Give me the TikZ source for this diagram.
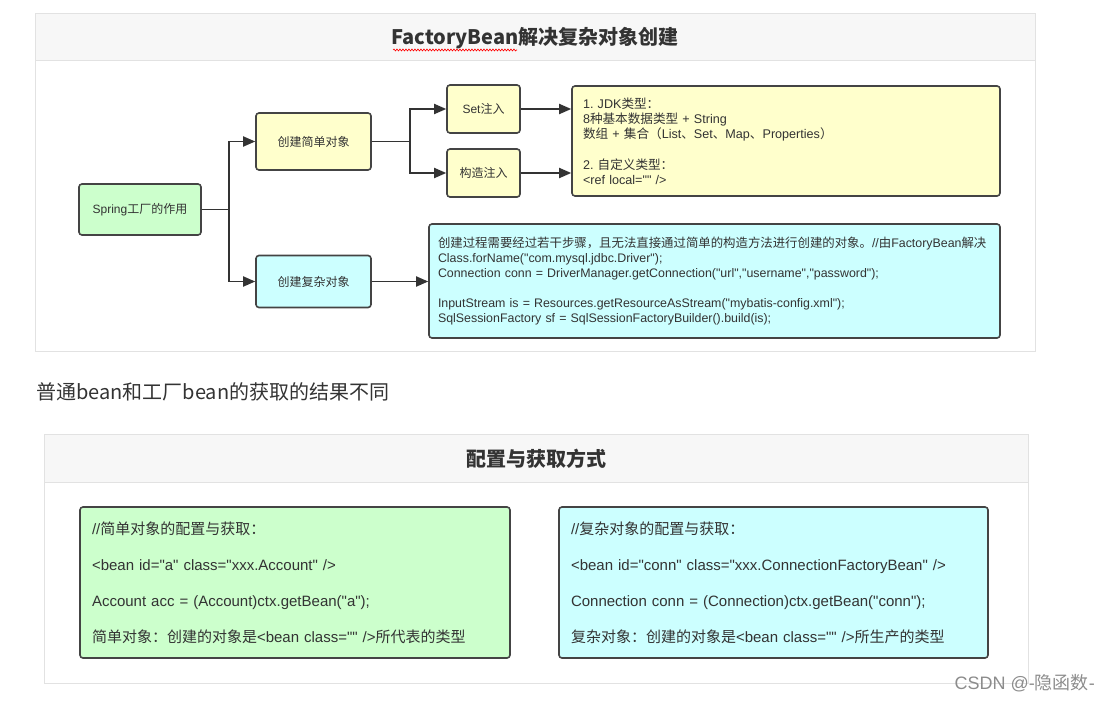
\documentclass[tikz,border=0pt]{standalone}
\usepackage{fontspec}
\setmainfont{Liberation Sans}[Ligatures=TeXOff]
\newfontfamily\cjk{Noto Sans CJK SC}[Ligatures=TeXOff]
\usetikzlibrary{arrows.meta,decorations.pathmorphing}
\frenchspacing
\makeatletter
\XeTeXinterchartokenstate=1
\newXeTeXintercharclass\CJKcls
\count@="3000 \loop \XeTeXcharclass\count@=\CJKcls \advance\count@ 1 \ifnum\count@<"3040 \repeat
\count@="4E00 \loop \XeTeXcharclass\count@=\CJKcls \advance\count@ 1 \ifnum\count@<"A000 \repeat
\count@="FF00 \loop \XeTeXcharclass\count@=\CJKcls \advance\count@ 1 \ifnum\count@<"FFF0 \repeat
\makeatother
\XeTeXinterchartoks 0 \CJKcls = {\cjk}
\XeTeXinterchartoks 4095 \CJKcls = {\cjk}
\XeTeXinterchartoks \CJKcls 0 = {\rmfamily}
\XeTeXinterchartoks \CJKcls 4095 = {\rmfamily}
\definecolor{txt}{HTML}{333333}
\definecolor{boxline}{HTML}{444444}
\definecolor{fgreen}{HTML}{CCFFCC}
\definecolor{fyellow}{HTML}{FFFFCC}
\definecolor{fcyan}{HTML}{CCFFFF}
\definecolor{panelline}{HTML}{E2E2E2}
\definecolor{panelhead}{HTML}{F7F7F7}
\tikzset{
  box/.style={draw=boxline, line width=1.6pt, rounded corners=3pt, text=txt, inner sep=0pt,
    font=\fontsize{12}{14}\selectfont, align=center},
  textbox/.style={box, align=left, font=\fontsize{12.6}{15.2}\selectfont},
  bigbox/.style={box, align=left, font=\fontsize{15}{36}\selectfont},
  arr/.style={draw=txt, line width=1.8pt, -{Triangle[length=12pt,width=10pt]}},
  panel/.style={draw=panelline, line width=1pt},
  head/.style={draw=panelline, line width=1pt, fill=panelhead},
  titletext/.style={text=txt, font=\fontsize{20}{24}\selectfont\bfseries}
}
\begin{document}
\begin{tikzpicture}[x=1pt,y=-1pt]
\useasboundingbox (0,0) rectangle (1110,701);
% panel 1
\draw[panel, fill=white] (35,14) rectangle (1035,351);
\draw[head] (35,14) rectangle (1035,61);
\node[titletext] (t1) at (535,38) {\XeTeXinterchartokenstate=0 \cjk\bfseries FactoryBean解决复杂对象创建};
\draw[red, line width=0.6pt, decorate, decoration={snake, amplitude=1pt, segment length=3pt}] (393,50) -- (517,50);

\node[box, fill=fgreen, minimum width=122pt, minimum height=51pt] (spring) at (140,209.5) {Spring工厂的作用};
\node[box, fill=fyellow, minimum width=115pt, minimum height=57pt] (simple) at (313.5,141.5) {创建简单对象};
\node[box, fill=fcyan, minimum width=115pt, minimum height=52pt] (complex) at (313.5,281.5) {创建复杂对象};
\node[box, fill=fyellow, minimum width=73pt, minimum height=48pt] (set) at (483.5,109) {Set注入};
\node[box, fill=fyellow, minimum width=73pt, minimum height=48pt] (ctor) at (483.5,173) {构造注入};
\node[textbox, fill=fyellow, minimum width=428pt, minimum height=110pt, text width=406pt] (types) at (786,141) {1. JDK类型：\\8种基本数据类型 + String\\数组 + 集合（List、Set、Map、Properties）\\[15.2pt]2. 自定义类型：\\<ref local="" />};
\node[textbox, fill=fcyan, minimum width=571pt, minimum height=114pt, text width=553pt, font=\fontsize{12.4}{15}\selectfont] (code) at (714.5,281) {创建过程需要经过若干步骤，且无法直接通过简单的构造方法进行创建的对象。//由FactoryBean解决\\Class.forName("com.mysql.jdbc.Driver");\\Connection conn = DriverManager.getConnection("url","username","password");\\[15pt]InputStream is = Resources.getResourceAsStream("mybatis-config.xml");\\SqlSessionFactory sf = SqlSessionFactoryBuilder().build(is);};

\draw[arr] (spring.east) -- ++(27,0) |- (simple.west);
\draw[arr] (spring.east) -- ++(27,0) |- (complex.west);
\draw[arr] (simple.east) -- ++(38,0) |- (set.west);
\draw[arr] (simple.east) -- ++(38,0) |- (ctor.west);
\draw[arr] (set.east) -- (set.east -| types.west);
\draw[arr] (ctor.east) -- (ctor.east -| types.west);
\draw[arr] (complex.east) -- (complex.east -| code.west);

% middle text
\node[anchor=west, text=txt, font=\fontsize{20}{23}\selectfont, inner sep=0pt] (mid) at (36,392) {\XeTeXinterchartokenstate=0 \cjk 普通bean和工厂bean的获取的结果不同};

% panel 2
\draw[panel, fill=white] (44,434) rectangle (1028,683);
\draw[head] (44,434) rectangle (1028,482);
\node[titletext] (t2) at (536,459) {\XeTeXinterchartokenstate=0 \cjk\bfseries 配置与获取方式};
\node[bigbox, fill=fgreen, minimum width=430pt, minimum height=151pt, text width=406pt] (sbox) at (295,582.5) {//简单对象的配置与获取：\\<bean id="a" class="xxx.Account" />\\Account acc = (Account)ctx.getBean("a");\\简单对象：创建的对象是<bean class="" />所代表的类型};
\node[bigbox, fill=fcyan, minimum width=429pt, minimum height=151pt, text width=405pt] (cbox) at (773.5,582.5) {//复杂对象的配置与获取：\\<bean id="conn" class="xxx.ConnectionFactoryBean" />\\Connection conn = (Connection)ctx.getBean("conn");\\复杂对象：创建的对象是<bean class="" />所生产的类型};

\node[anchor=east, text=black!45, font=\fontsize{18}{20}\selectfont, inner sep=0pt] (wm) at (1095,683) {CSDN @-隐函数-};
\end{tikzpicture}
\end{document}
